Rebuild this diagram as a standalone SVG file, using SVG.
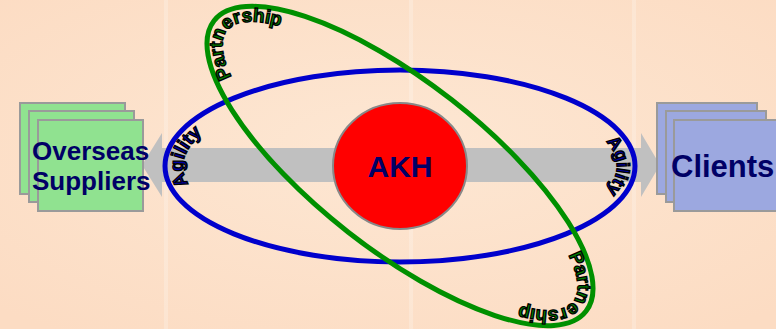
<svg xmlns="http://www.w3.org/2000/svg" width="776" height="329" viewBox="0 0 776 329">
  <defs>
    <radialGradient id="bg" cx="0.5" cy="0.45" r="0.7">
      <stop offset="0" stop-color="#fde7d3"/>
      <stop offset="1" stop-color="#fcdcc3"/>
    </radialGradient>
    <style>
      .box { stroke: #9a9a9a; stroke-width: 2; }
      .g { fill: #90e290; }
      .b { fill: #9ca8e0; }
      .lbl { font-family: "Liberation Sans", Arial, sans-serif; font-weight: bold; fill: #000066; }
      .arc { font-family: "Liberation Sans", Arial, sans-serif; font-weight: bold; stroke: #000; stroke-width: 1.3; }
      .stripe { fill: #ffffff; opacity: 0.22; }
    </style>
    <path id="agL" d="M 400,244 A 217 78 0 0 1 400,88"/>
    <path id="agR" d="M 400,88 A 217 78 0 0 1 400,244"/>
    <path id="ptTL" d="M -110,55.4 A 220 64 0 0 1 -75.2,-60.1"/>
    <path id="ptBR" d="M 110,-55.4 A 220 64 0 0 1 75.2,60.1"/>
  </defs>

  <rect width="776" height="329" fill="url(#bg)"/>
  <rect class="stripe" x="164" y="0" width="4" height="329"/>
  <rect class="stripe" x="409" y="0" width="4" height="329"/>
  <rect class="stripe" x="632" y="0" width="4" height="329"/>

  <g id="connectors">
    <polygon id="arrow" points="142,165 162,133 162,148 641,148 641,133 660,165 641,197 641,182 162,182 162,197" fill="#c0c0c0"/>
    <ellipse id="agility-ring" cx="400" cy="166" rx="235" ry="96" fill="none" stroke="#0000cc" stroke-width="5"/>
    <ellipse id="partnership-ring" cx="0" cy="0" rx="236" ry="84" fill="none" stroke="#009000" stroke-width="5" transform="translate(400,166) rotate(38)"/>
  </g>

  <g id="akh">
    <ellipse cx="400" cy="166" rx="67" ry="63" fill="#ff0000" stroke="#888888" stroke-width="2"/>
    <text class="lbl" x="400" y="177" font-size="30" text-anchor="middle">AKH</text>
  </g>

  <g id="ring-labels">
    <text class="arc" font-size="19" fill="#0000aa"><textPath href="#agL" startOffset="52%" text-anchor="middle">Agility</textPath></text>
    <text class="arc" font-size="18" fill="#0000aa"><textPath href="#agR" startOffset="50%" text-anchor="middle">Agility</textPath></text>
    <g transform="translate(400,166) rotate(38)">
      <text class="arc" font-size="19" fill="#008000"><textPath href="#ptTL" startOffset="133.4" text-anchor="middle">Partnership</textPath></text>
      <text class="arc" font-size="19" fill="#008000"><textPath href="#ptBR" startOffset="133.4" text-anchor="middle">Partnership</textPath></text>
    </g>
  </g>

  <g id="overseas-suppliers">
    <rect class="box g" x="20" y="103" width="105" height="91"/>
    <rect class="box g" x="29" y="111" width="105" height="91"/>
    <rect class="box g" x="38" y="120" width="105" height="91"/>
    <text class="lbl" x="32" y="160" font-size="26">Overseas</text>
    <text class="lbl" x="32" y="190" font-size="26">Suppliers</text>
  </g>

  <g id="clients">
    <rect class="box b" x="657" y="103" width="100" height="91"/>
    <rect class="box b" x="666" y="111" width="100" height="91"/>
    <rect class="box b" x="674" y="120" width="110" height="91"/>
    <text class="lbl" x="671" y="177" font-size="31">Clients</text>
  </g>
</svg>
